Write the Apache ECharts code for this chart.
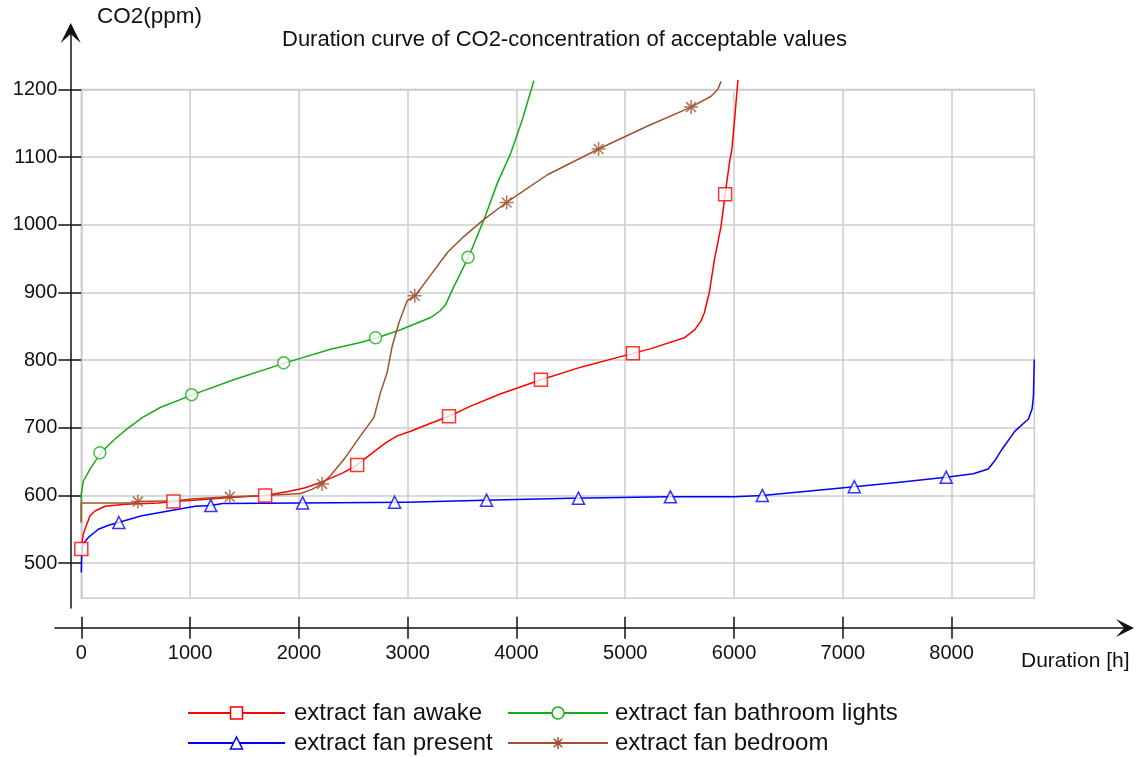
<!DOCTYPE html>
<html>
<head>
<meta charset="utf-8">
<script src="https://cdn.jsdelivr.net/npm/echarts@6/dist/echarts.min.js"></script>
<style>
html,body{margin:0;padding:0;background:#fff;}
#chart{width:1140px;height:758px;}
</style>
</head>
<body>
<div id="chart"></div>
<script>
// ---- data ----
const seriesNames = ['extract fan awake', 'extract fan present', 'extract fan bathroom lights', 'extract fan bedroom'];
const xTickValues = [0, 1000, 2000, 3000, 4000, 5000, 6000, 7000, 8000];
const yTickValues = [500, 600, 700, 800, 900, 1000, 1100, 1200];

const awakeCurve = [[0,521],[18,543],[50,557],[80,570],[126,577],[218,584],[402,587],[709,589],[847,591],[1031,593],[1369,597],[1690,600],[1900,606],[2050,611],[2213,620],[2400,633],[2536,645],[2620,656],[2700,666],[2800,678],[2904,688],[3027,695],[3200,706],[3380,717],[3579,732],[3850,750],[4225,771],[4600,790],[5070,810],[5237,817],[5543,833],[5640,845],[5697,858],[5727,870],[5773,900],[5820,949],[5881,998],[5918,1045],[5958,1092],[5980,1111],[6010,1165],[6036,1214]];
const awakeMarks = [[0,521],[847,591],[1690,600],[2536,645],[3380,717],[4225,771],[5070,810],[5918,1045]];

const presentCurve = [[0,486],[3,510],[10,523],[30,531],[65,538],[157,550],[250,556],[341,560],[556,570],[801,577],[1047,584],[1190,585],[1300,588],[2000,589],[3000,590],[3700,593],[4500,596],[5400,598],[6000,598],[6260,600],[6600,605],[7105,613],[7500,619],[7950,627],[8200,632],[8336,639],[8400,652],[8462,668],[8582,695],[8706,713],[8740,728],[8752,747],[8760,801]];
const presentMarks = [[345,560],[1190,585],[2035,589],[2880,590],[3725,593],[4570,596],[5415,598],[6260,600],[7105,613],[7950,627]];

const bathroomCurve = [[0,560],[0,602],[18,621],[80,639],[179,663],[300,682],[418,698],[560,715],[725,730],[1026,749],[1400,771],[1876,796],[2290,816],[2566,826],[2720,833],[2935,845],[3211,863],[3300,873],[3349,882],[3425,909],[3457,919],[3564,954],[3702,1008],[3825,1062],[3948,1106],[4055,1156],[4160,1213]];
const bathroomMarks = [[170,663],[1015,749],[1860,796],[2705,833],[3555,952]];

const bedroomCurve = [[0,560],[0,589],[80,589],[479,589],[525,591],[863,592],[1031,595],[1369,598],[1700,600],[2014,603],[2120,609],[2213,617],[2289,629],[2413,653],[2566,688],[2689,715],[2750,752],[2812,782],[2858,821],[2919,855],[2996,888],[3073,896],[3180,919],[3365,959],[3518,983],[3702,1008],[3908,1033],[4285,1074],[4755,1112],[5206,1146],[5605,1174],[5789,1190],[5850,1200],[5881,1212]];
const bedroomMarks = [[520,591],[1365,598],[2213,617],[3065,895],[3910,1033],[4755,1112],[5605,1174]];

// ---- styling ----
const FONT = '"Liberation Sans", Arial, sans-serif';
const TXT = '#111';
const colors = ['#ff0000', '#0000ff', '#1aaa1a', '#a0522d'];
const starPath = 'path://M0,-10L0,10M-10,0L10,0M-7.07,-7.07L7.07,7.07M-7.07,7.07L7.07,-7.07';
const chevron = 'path://M0,0L11,22L0,12L-11,22Z';
const symbols = ['rect', 'triangle', 'circle', starPath];
const markSizes = [13, 12, 12, 14];
const curves = [awakeCurve, presentCurve, bathroomCurve, bedroomCurve];
const marks = [awakeMarks, presentMarks, bathroomMarks, bedroomMarks];

const series = [];
seriesNames.forEach((name, i) => {
  const fill = i === 3 ? 'transparent' : '#ffffff';
  series.push({
    name, type: 'line', data: curves[i], xAxisIndex: 0, yAxisIndex: 0,
    showSymbol: false, symbol: symbols[i], clip: false, silent: true, smooth: false,
    lineStyle: { color: colors[i], width: 1.5, join: 'round' },
    itemStyle: { color: fill, borderColor: colors[i], borderWidth: 1.5 },
    z: 3
  });
});
seriesNames.forEach((name, i) => {
  const fill = i === 3 ? 'transparent' : '#ffffff';
  series.push({
    name, type: 'scatter', data: marks[i], xAxisIndex: 0, yAxisIndex: 0,
    symbol: symbols[i], symbolSize: markSizes[i], silent: true,
    itemStyle: { color: fill, borderColor: colors[i], borderWidth: 1.5 },
    z: 4
  });
});

const GRID_LEFT = 81.3, GRID_RIGHT = 1140 - 1034.3, GRID_TOP = 89.5, GRID_BOTTOM = 758 - 598.3;
const plain = v => String(v);

const option = {
  animation: false,
  backgroundColor: '#ffffff',
  title: [
    { text: 'Duration curve of CO2-concentration of acceptable values', left: 282, top: 29,
      textStyle: { fontFamily: FONT, fontSize: 22, fontWeight: 'normal', color: TXT }, padding: 0 },
    { text: 'CO2(ppm)', left: 97, top: 5,
      textStyle: { fontFamily: FONT, fontSize: 22.5, fontWeight: 'normal', color: TXT }, padding: 0 },
    { text: 'Duration [h]', left: 1021, top: 651,
      textStyle: { fontFamily: FONT, fontSize: 21, fontWeight: 'normal', color: TXT }, padding: 0 }
  ],
  legend: [
    { data: [seriesNames[0], seriesNames[1]], orient: 'vertical', left: 187, top: 701,
      itemWidth: 97, itemHeight: 15, itemGap: 6, padding: 0,
      textStyle: { fontFamily: FONT, fontSize: 24, color: TXT, padding: [0, 0, 0, 4] },
      itemStyle: { borderWidth: 1.5 } },
    { data: [seriesNames[2], seriesNames[3]], orient: 'vertical', left: 507, top: 701,
      itemWidth: 100, itemHeight: 15, itemGap: 6, padding: 0,
      textStyle: { fontFamily: FONT, fontSize: 24, color: TXT, padding: [0, 0, 0, 2] },
      itemStyle: { borderWidth: 1.5 } }
  ],
  grid: [
    { left: GRID_LEFT, right: GRID_RIGHT, top: GRID_TOP, bottom: GRID_BOTTOM, containLabel: false,
      show: true, borderColor: '#cccccc', borderWidth: 1.5, backgroundColor: 'transparent' },
    { left: 55, right: 15, top: 33, bottom: 758 - 628, containLabel: false },
    { left: 70.7, right: 15, top: 33, bottom: 758 - 608, containLabel: false }
  ],
  xAxis: [
    { gridIndex: 0, type: 'value', min: 0, max: 8760, interval: 1000, position: 'bottom', offset: 18.5,
      axisLine: { show: false },
      axisTick: { show: true, inside: false, length: 22, lineStyle: { color: '#111', width: 1.5 }, customValues: xTickValues },
      axisLabel: { show: true, margin: 27, fontFamily: FONT, fontSize: 20, color: TXT, customValues: xTickValues, formatter: plain },
      splitLine: { show: true, lineStyle: { color: '#cccccc', width: 1.5 } } },
    { gridIndex: 1, type: 'value', min: 0, max: 1, position: 'bottom',
      axisLine: { show: true, onZero: false, symbol: ['none', chevron], symbolSize: [18, 20], lineStyle: { color: '#111', width: 1.5 } },
      axisTick: { show: false }, axisLabel: { show: false }, splitLine: { show: false } },
    { gridIndex: 2, type: 'value', show: false, min: 0, max: 1 }
  ],
  yAxis: [
    { gridIndex: 0, type: 'value', min: 448, max: 1200, splitNumber: 7,
      axisLine: { show: false },
      axisTick: { show: true, inside: false, length: 23, lineStyle: { color: '#111', width: 1.5 }, customValues: yTickValues },
      axisLabel: { show: true, margin: 24, fontFamily: FONT, fontSize: 20, color: TXT, customValues: yTickValues, formatter: plain },
      splitLine: { show: true, lineStyle: { color: '#cccccc', width: 1.5 } } },
    { gridIndex: 1, type: 'value', show: false, min: 0, max: 1 },
    { gridIndex: 2, type: 'value', min: 0, max: 1, position: 'left',
      axisLine: { show: true, onZero: false, symbol: ['none', chevron], symbolSize: [20, 22], lineStyle: { color: '#111', width: 1.5 } },
      axisTick: { show: false }, axisLabel: { show: false }, splitLine: { show: false } }
  ],
  series
};

const chart = echarts.init(document.getElementById('chart'), null, { renderer: 'canvas' });
chart.setOption(option);
</script>
</body>
</html>
